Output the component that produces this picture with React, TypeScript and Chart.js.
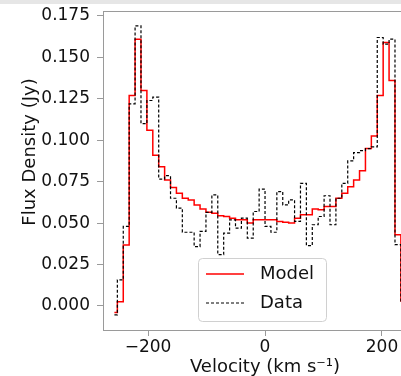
import React, { useEffect, useRef } from "react";
import { Chart, registerables } from "chart.js";

Chart.register(...registerables);

// ---- data ----
const velocity = [
  -257.5, -247.4, -237.3, -227.2, -217.1, -207.0, -196.9, -186.8, -176.7, -166.6,
  -156.5, -146.4, -136.3, -126.2, -116.1, -106.0, -95.9, -85.8, -75.7, -65.6,
  -55.5, -45.4, -35.3, -25.2, -15.1, -5.0, 5.1, 15.2, 25.3, 35.4,
  45.5, 55.6, 65.7, 75.8, 85.9, 96.0, 106.1, 116.2, 126.3, 136.4,
  146.5, 156.6, 166.7, 176.8, 186.9, 197.0, 207.1, 217.2, 227.3, 237.4,
];

const modelFlux = [
  -0.004, 0.0026, 0.0368, 0.127, 0.161, 0.13, 0.106, 0.091, 0.084, 0.076,
  0.0715, 0.068, 0.065, 0.064, 0.061, 0.0585, 0.0565, 0.056, 0.0545, 0.054,
  0.053, 0.052, 0.052, 0.05, 0.052, 0.052, 0.052, 0.052, 0.051, 0.0505,
  0.05, 0.053, 0.055, 0.055, 0.0585, 0.058, 0.06, 0.06, 0.065, 0.068,
  0.072, 0.076, 0.0816, 0.095, 0.1025, 0.127, 0.159, 0.136, 0.043, 0.003,
];

const dataFlux = [
  -0.0054, 0.0157, 0.048, 0.122, 0.169, 0.11, 0.124, 0.126, 0.0766, 0.0786,
  0.065, 0.059, 0.0445, 0.0445, 0.0358, 0.045, 0.0565, 0.067, 0.031, 0.044,
  0.052, 0.047, 0.053, 0.041, 0.057, 0.0705, 0.048, 0.0445, 0.069, 0.061,
  0.064, 0.051, 0.074, 0.0364, 0.049, 0.054, 0.0665, 0.049, 0.065, 0.074,
  0.0875, 0.0925, 0.0937, 0.095, 0.096, 0.162, 0.158, 0.161, 0.037, 0.003,
];

const seriesLabels = ["Model", "Data"];
const xTicks = [-200, 0, 200];
const yTicks = [0, 0.025, 0.05, 0.075, 0.1, 0.125, 0.15, 0.175];
const xTitle = "Velocity (km s\u207B\u00B9)";
const yTitle = "Flux Density (Jy)";

const FONT = "'DejaVu Sans', sans-serif";
const TEXT = "#111111";
const SPINE = "#9a9a9a";

function roundRect(ctx: CanvasRenderingContext2D, x: number, y: number, w: number, h: number, r: number) {
  ctx.beginPath();
  ctx.moveTo(x + r, y);
  ctx.lineTo(x + w - r, y);
  ctx.arcTo(x + w, y, x + w, y + r, r);
  ctx.lineTo(x + w, y + h - r);
  ctx.arcTo(x + w, y + h, x + w - r, y + h, r);
  ctx.lineTo(x + r, y + h);
  ctx.arcTo(x, y + h, x, y + h - r, r);
  ctx.lineTo(x, y + r);
  ctx.arcTo(x, y, x + r, y, r);
  ctx.closePath();
}

export default function App() {
  const canvasRef = useRef<HTMLCanvasElement>(null);

  useEffect(() => {
    const canvas = canvasRef.current;
    if (!canvas) return;

    const decor = {
      id: "decor",
      afterDraw(chart: any) {
        const ctx: CanvasRenderingContext2D = chart.ctx;
        const a = chart.chartArea;
        ctx.save();
        // top and right spines
        ctx.strokeStyle = SPINE;
        ctx.lineWidth = 1;
        ctx.beginPath();
        ctx.moveTo(a.left, a.top + 0.5);
        ctx.lineTo(a.right, a.top + 0.5);
        ctx.moveTo(a.right - 0.5, a.top);
        ctx.lineTo(a.right - 0.5, a.bottom);
        ctx.stroke();

        // y-axis title
        ctx.save();
        ctx.fillStyle = TEXT;
        ctx.font = `18px ${FONT}`;
        ctx.translate(a.left - 73, a.top + 141);
        ctx.rotate(-Math.PI / 2);
        ctx.textAlign = "center";
        ctx.textBaseline = "middle";
        ctx.fillText(yTitle, 0, 0);
        ctx.restore();

        // legend
        const bx = a.left + 95;
        const by = a.bottom - 72;
        const bw = 128;
        const bh = 63;
        roundRect(ctx, bx + 0.5, by + 0.5, bw, bh, 4);
        ctx.fillStyle = "rgba(255,255,255,0.8)";
        ctx.fill();
        ctx.strokeStyle = "#d0d0d0";
        ctx.lineWidth = 1;
        ctx.stroke();

        const ds = chart.data.datasets;
        ds.forEach((d: any, i: number) => {
          const y = by + 16 + i * 29;
          ctx.beginPath();
          ctx.strokeStyle = d.borderColor;
          ctx.lineWidth = d.borderWidth;
          ctx.setLineDash(d.borderDash || []);
          ctx.moveTo(bx + 8, y);
          ctx.lineTo(bx + 46, y);
          ctx.stroke();
          ctx.setLineDash([]);
          ctx.fillStyle = TEXT;
          ctx.font = `18px ${FONT}`;
          ctx.textAlign = "left";
          ctx.textBaseline = "middle";
          ctx.fillText(d.label, bx + 62, y);
        });
        ctx.restore();
      },
    };

    const chart = new Chart(canvas, {
      type: "line",
      data: {
        datasets: [
          {
            label: seriesLabels[0],
            data: velocity.map((v, i) => ({ x: v, y: modelFlux[i] })),
            borderColor: "#ff0000",
            borderWidth: 1.5,
            stepped: "middle",
            pointRadius: 0,
            fill: false,
            order: 1,
          },
          {
            label: seriesLabels[1],
            data: velocity.map((v, i) => ({ x: v, y: dataFlux[i] })),
            borderColor: "#000000",
            borderWidth: 1.2,
            borderDash: [3, 2],
            stepped: "middle",
            pointRadius: 0,
            fill: false,
            order: 0,
          },
        ],
      },
      options: {
        animation: false,
        responsive: false,
        maintainAspectRatio: false,
        events: [],
        layout: { padding: { top: 11, right: 13, bottom: 0, left: 0 } },
        plugins: { legend: { display: false }, tooltip: { enabled: false } },
        scales: {
          x: {
            type: "linear",
            min: -277,
            max: 277,
            afterBuildTicks: (s: any) => {
              s.ticks = xTicks.map((v) => ({ value: v }));
            },
            afterFit: (s: any) => {
              s.height = 48;
              s.paddingLeft = 0;
              s.paddingRight = 0;
            },
            ticks: {
              autoSkip: false,
              maxRotation: 0,
              padding: 1,
              color: TEXT,
              font: { family: FONT, size: 17 },
              callback: (v: any) => (Number(v) < 0 ? "\u2212" + Math.abs(Number(v)) : String(v)),
            },
            grid: { drawOnChartArea: false, drawTicks: true, tickLength: 6, color: SPINE },
            border: { display: true, color: SPINE, width: 1 },
            title: {
              display: true,
              text: xTitle,
              color: TEXT,
              font: { family: FONT, size: 18 },
              padding: { top: 0, bottom: 0 },
            },
          },
          y: {
            type: "linear",
            min: -0.0145,
            max: 0.178,
            afterBuildTicks: (s: any) => {
              s.ticks = yTicks.map((v) => ({ value: v }));
            },
            afterFit: (s: any) => {
              s.width = 103;
              s.paddingTop = 0;
              s.paddingBottom = 0;
            },
            ticks: {
              padding: 7,
              color: TEXT,
              font: { family: FONT, size: 17 },
              callback: (v: any) => Number(v).toFixed(3),
            },
            grid: { drawOnChartArea: false, drawTicks: true, tickLength: 6, color: SPINE },
            border: { display: true, color: SPINE, width: 1 },
            title: { display: false },
          },
        },
      },
      plugins: [decor],
    } as any);

    return () => chart.destroy();
  }, []);

  return (
    <div
      style={{
        position: "fixed",
        left: 0,
        top: 0,
        width: 401,
        height: 376,
        overflow: "hidden",
        background: "#ffffff",
      }}
    >
      <canvas ref={canvasRef} width={440} height={378} style={{ display: "block", width: 440, height: 378 }} />
      <div
        style={{
          position: "absolute",
          left: 0,
          top: 0,
          width: 401,
          height: 4,
          background: "#e6e6e6",
        }}
      />
    </div>
  );
}
